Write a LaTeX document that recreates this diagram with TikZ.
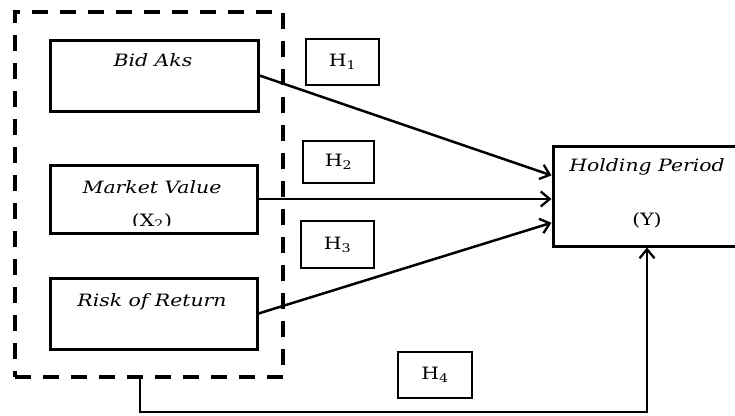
\documentclass[tikz,border=0pt]{standalone}
\usepackage{fontspec}
\setmainfont[FakeStretch=1.2]{DejaVu Serif}
\usetikzlibrary{arrows.meta,calc}

\tikzset{
  varbox/.style={draw, line width=3pt, inner sep=0pt},
  hypbox/.style={draw, line width=1.5pt, inner sep=0pt, font=\fontsize{17}{19}\selectfont},
  frameline/.style={draw, line width=4pt, dash pattern=on 16pt off 12pt},
  vartext/.style={font=\fontsize{17}{19}\selectfont\itshape, inner sep=0pt},
  plaintext/.style={font=\fontsize{17}{19}\selectfont, inner sep=0pt},
  arr/.style={line width=2.5pt, -{Straight Barb[length=9pt,width=15pt,line width=2.3pt]}}
}

\begin{document}
\begin{tikzpicture}[x=1pt,y=-1pt]
  \useasboundingbox (0,0) rectangle (735,415);
  \clip (0,0) rectangle (735,415);
  \fill[white] (0,0) rectangle (735,415);

  % dashed group around the independent variables
  \node[frameline, minimum width=268pt, minimum height=365pt] (frame) at (149,194.5) {};

  % independent variables
  \node[varbox, minimum width=208pt, minimum height=71pt] (bid) at (154,75.5) {};
  \node[vartext] at (153,60) {Bid Aks};

  \node[varbox, minimum width=207pt, minimum height=68pt] (mv) at (153.5,199) {};
  \node[vartext] at (152,187) {Market Value};
  \begin{scope}
    % the second line is cut off by the text area of the box
    \clip (50,165) rectangle (257,225);
    \node[plaintext] at (152,221) {(X\textsubscript{2})};
  \end{scope}

  \node[varbox, minimum width=207pt, minimum height=71pt] (rr) at (153.5,313.5) {};
  \node[vartext] at (152,302) {Risk of Return};

  % dependent variable
  \node[varbox, minimum width=188pt, minimum height=100pt] (hp) at (647,196) {};
  \node[vartext] at (647,167) {Holding Period};
  \node[plaintext] at (647,220) {(Y)};

  % hypothesis labels
  \node[hypbox, minimum width=73pt, minimum height=46pt] (h1) at (342.5,62) {H\textsubscript{1}};
  \node[hypbox, minimum width=71pt, minimum height=42pt] (h2) at (338.5,162) {H\textsubscript{2}};
  \node[hypbox, minimum width=73pt, minimum height=47pt] (h3) at (337.5,244.5) {H\textsubscript{3}};
  \node[hypbox, minimum width=74pt, minimum height=46pt] (h4) at (435,375) {H\textsubscript{4}};

  % paths into the dependent variable
  \coordinate (t1) at ($(hp.north west)!0.30!(hp.south west)$);
  \coordinate (t3) at ($(hp.north west)!0.76!(hp.south west)$);
  \draw[arr] (bid.east) -- (t1);
  \draw[arr] (mv.east) -- (mv.east -| hp.west);
  \draw[arr] (rr.east) -- (t3);

  \coordinate (fb) at (140,377);
  \draw[arr] (fb) -- ++(0,35) -| (hp.south);
\end{tikzpicture}
\end{document}
